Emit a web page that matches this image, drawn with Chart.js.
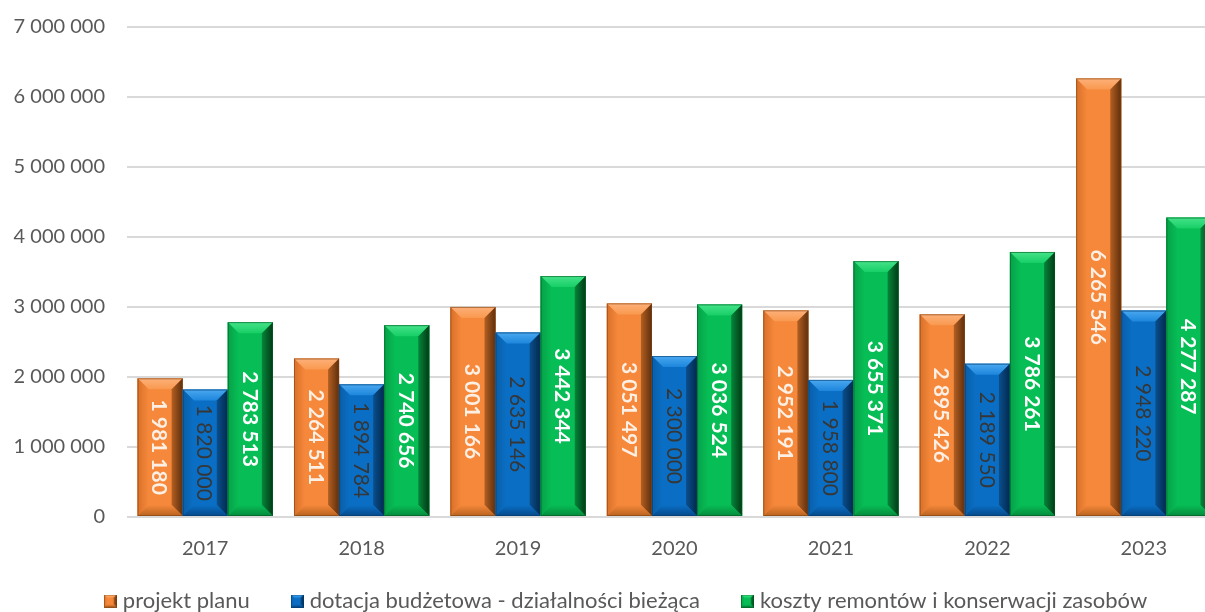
<!DOCTYPE html>
<html>
<head>
<meta charset="utf-8">
<script src="https://cdn.jsdelivr.net/npm/chart.js@4/dist/chart.umd.min.js"></script>
<style>
  html, body { margin: 0; padding: 0; background: #ffffff; overflow: hidden; }
  #wrap { width: 1205px; height: 612px; overflow: hidden; position: relative; }
  canvas { display: block; }
</style>
</head>
<body>
<div id="wrap"><canvas id="c" width="1230" height="660"></canvas></div>
<script>
// Years on the category axis
const years = ['2017', '2018', '2019', '2020', '2021', '2022', '2023'];

// Series values (PLN)
const projektPlanu = [1981180, 2264511, 3001166, 3051497, 2952191, 2895426, 6265546];
const dotacjaBudzetowa = [1820000, 1894784, 2635146, 2300000, 1958800, 2189550, 2948220];
const kosztyRemontow = [2783513, 2740656, 3442344, 3036524, 3655371, 3786261, 4277287];

// Series names
const seriesNames = [
  'projekt planu',
  'dotacja budżetowa - działalności bieżąca',
  'koszty remontów i konserwacji zasobów'
];

// Value axis ticks
const yTicks = [0, 1000000, 2000000, 3000000, 4000000, 5000000, 6000000, 7000000];

// Bevel palettes: face, top highlight, top base, left edge, right edge (dark), bottom
const palettes = [
  { face: '#f5883a', hi: '#fdb07a', top: '#f9994f', left: '#d9702a', right: '#5e2e0c', rightMid: '#b35f22', bottom: '#b8621f', line: '#7a4214' },
  { face: '#0a6fc4', hi: '#4aa8f0', top: '#1d86dc', left: '#0a5ea8', right: '#02294d', rightMid: '#0a4f8e', bottom: '#06498a', line: '#053a6a' },
  { face: '#07bd55', hi: '#45e289', top: '#17cf66', left: '#06a148', right: '#013a15', rightMid: '#05863a', bottom: '#058a3c', line: '#035a25' }
];
const labelStyles = [
  { color: '#fdefe4', weight: 'bold' },
  { color: '#363636', weight: 'normal' },
  { color: '#ffffff', weight: 'bold' }
];

function fmt(v) {
  return String(v).replace(/\B(?=(\d{3})+(?!\d))/g, ' ');
}

function poly(ctx, pts, fill) {
  ctx.beginPath();
  ctx.moveTo(pts[0][0], pts[0][1]);
  for (let i = 1; i < pts.length; i++) ctx.lineTo(pts[i][0], pts[i][1]);
  ctx.closePath();
  ctx.fillStyle = fill;
  ctx.fill();
}

// Draws a bevelled box inside the rectangle (x0,y0)-(x1,y1)
function drawBevel(ctx, x0, y0, x1, y1, p, maxB) {
  const w = x1 - x0, h = y1 - y0;
  const b = Math.max(1, Math.min(maxB, w / 4, h / 2));
  ctx.save();
  ctx.fillStyle = p.face;
  ctx.fillRect(x0, y0, w, h);
  // top facet
  let g = ctx.createLinearGradient(0, y0, 0, y0 + b);
  g.addColorStop(0, p.hi);
  g.addColorStop(1, p.top);
  poly(ctx, [[x0, y0], [x1, y0], [x1 - b, y0 + b], [x0 + b, y0 + b]], g);
  // left facet
  g = ctx.createLinearGradient(x0, 0, x0 + b, 0);
  g.addColorStop(0, p.left);
  g.addColorStop(1, p.face);
  poly(ctx, [[x0, y0], [x0 + b, y0 + b], [x0 + b, y1 - b], [x0, y1]], g);
  // right facet
  g = ctx.createLinearGradient(x1 - b, 0, x1, 0);
  g.addColorStop(0, p.rightMid);
  g.addColorStop(1, p.right);
  poly(ctx, [[x1, y0], [x1, y1], [x1 - b, y1 - b], [x1 - b, y0 + b]], g);
  // bottom facet
  g = ctx.createLinearGradient(0, y1 - b, 0, y1);
  g.addColorStop(0, p.face);
  g.addColorStop(1, p.bottom);
  poly(ctx, [[x0, y1], [x0 + b, y1 - b], [x1 - b, y1 - b], [x1, y1]], g);
  // thin outline
  ctx.strokeStyle = p.line;
  ctx.globalAlpha = 0.6;
  ctx.lineWidth = 1;
  ctx.strokeRect(x0 + 0.5, y0 + 0.5, w - 1, h - 1);
  ctx.restore();
}

// Small bevelled squares used as legend markers
function legendIcon(p) {
  const cv = document.createElement('canvas');
  cv.width = 13; cv.height = 13;
  drawBevel(cv.getContext('2d'), 0, 0, 13, 13, p, 4);
  return cv;
}
const legendIcons = palettes.map(legendIcon);

const bevelPlugin = {
  id: 'bevelBars',
  afterLayout(chart) {
    // lift the legend row a little and centre it under the visible area
    const lg = chart.legend;
    if (lg) {
      lg.top -= 17; lg.bottom -= 17;
      lg.left += 17; lg.right += 17;
    }
  },
  afterDatasetsDraw(chart) {
    const ctx = chart.ctx;
    chart.data.datasets.forEach((ds, di) => {
      const meta = chart.getDatasetMeta(di);
      if (meta.hidden) return;
      meta.data.forEach((el) => {
        const x0 = el.x - el.width / 2, x1 = el.x + el.width / 2;
        const y0 = Math.min(el.y, el.base), y1 = Math.max(el.y, el.base);
        drawBevel(ctx, x0, y0, x1, y1, palettes[di], 11);
      });
    });
    // rotated value labels centred in each bar
    chart.data.datasets.forEach((ds, di) => {
      const meta = chart.getDatasetMeta(di);
      if (meta.hidden) return;
      const st = labelStyles[di];
      meta.data.forEach((el, i) => {
        const cy = (el.y + el.base) / 2;
        ctx.save();
        ctx.translate(el.x, cy);
        ctx.rotate(Math.PI / 2);
        ctx.font = st.weight + ' 21px Lato';
        ctx.fillStyle = st.color;
        ctx.textAlign = 'center';
        ctx.textBaseline = 'middle';
        ctx.fillText(fmt(ds.data[i]), 0, 1);
        ctx.restore();
      });
    });
  }
};

new Chart(document.getElementById('c'), {
  type: 'bar',
  data: {
    labels: years,
    datasets: [
      { label: seriesNames[0], data: projektPlanu, backgroundColor: palettes[0].face },
      { label: seriesNames[1], data: dotacjaBudzetowa, backgroundColor: palettes[1].face },
      { label: seriesNames[2], data: kosztyRemontow, backgroundColor: palettes[2].face }
    ]
  },
  options: {
    responsive: false,
    animation: false,
    devicePixelRatio: 1,
    layout: { padding: { left: 0, right: 8, top: 27, bottom: 21 } },
    datasets: { bar: { categoryPercentage: 0.865, barPercentage: 1.0, borderWidth: 0 } },
    scales: {
      x: {
        grid: { display: false, drawTicks: false },
        border: { display: false },
        ticks: { color: '#595959', font: { family: 'Lato', size: 20 }, padding: 20 },
        afterFit(scale) { scale.height = 44; }
      },
      y: {
        min: 0,
        max: 7000000,
        afterBuildTicks(scale) { scale.ticks = yTicks.map(v => ({ value: v })); },
        grid: { color: '#d9d9d9', lineWidth: 2, drawTicks: false },
        border: { display: false },
        ticks: {
          color: '#595959',
          font: { family: 'Lato', size: 20 },
          padding: 22,
          callback: (v) => fmt(v)
        },
        afterFit(scale) {
          scale.width = 127;
          scale.paddingTop = 0;
          scale.paddingBottom = 0;
        }
      }
    },
    plugins: {
      legend: {
        position: 'bottom',
        labels: {
          color: '#595959',
          font: { family: 'Lato', size: 22 },
          usePointStyle: true,
          boxWidth: 3,
          boxHeight: 13,
          padding: 46,
          generateLabels(chart) {
            return chart.data.datasets.map((ds, i) => ({
              text: ds.label,
              pointStyle: legendIcons[i],
              fillStyle: palettes[i].face,
              strokeStyle: palettes[i].face,
              lineWidth: 0,
              hidden: false,
              datasetIndex: i,
              fontColor: '#595959'
            }));
          }
        }
      },
      tooltip: { enabled: false }
    }
  },
  plugins: [bevelPlugin]
});
</script>
</body>
</html>
